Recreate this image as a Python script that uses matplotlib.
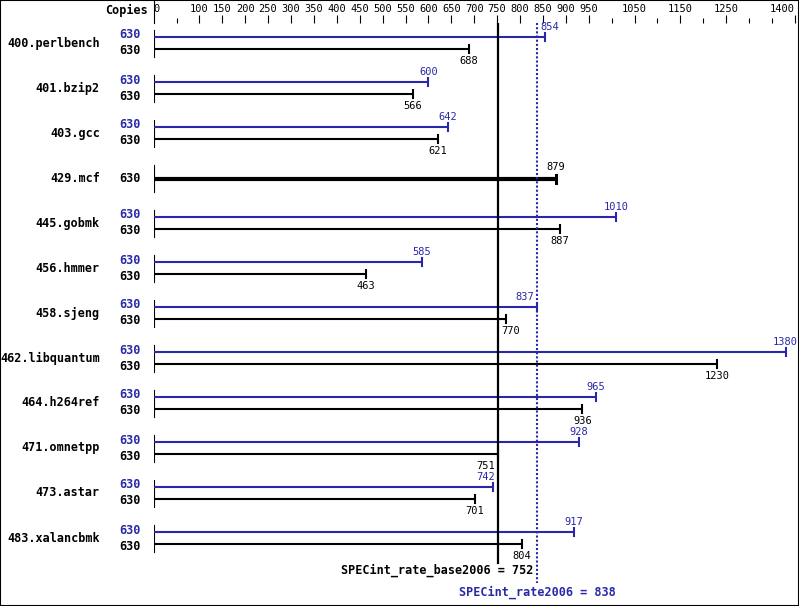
import matplotlib
matplotlib.use('Agg')
import matplotlib.pyplot as plt
import matplotlib.transforms as mtransforms

benchmarks = ['400.perlbench', '401.bzip2', '403.gcc', '429.mcf', '445.gobmk', '456.hmmer',
              '458.sjeng', '462.libquantum', '464.h264ref', '471.omnetpp', '473.astar', '483.xalancbmk']
peak = [854, 600, 642, 879, 1010, 585, 837, 1380, 965, 928, 742, 917]
base = [688, 566, 621, 879, 887, 463, 770, 1230, 936, 751, 701, 804]
copies_peak = [630] * 12
copies_base = [630] * 12
base_score = 752
peak_score = 838
major_ticks = [100, 150, 200, 250, 300, 350, 400, 450, 500, 550, 600, 650, 700, 750,
               800, 850, 900, 950, 1050, 1150, 1250, 1400]
minor_ticks = [50, 1000, 1100, 1200, 1300, 1350]

BLUE = '#2828a8'
W, H = 799, 606
X0, X1, TOP = 153.6, 794.8, 23
scale = (X1 - X0) / 1400

plt.rcParams['font.family'] = 'DejaVu Sans Mono'

fig = plt.figure(figsize=(W / 100, H / 100), dpi=100)
ax = fig.add_axes([X0 / W, 0, (X1 - X0) / W, (H - TOP) / H])
ax.set_xlim(0, 1400)
ax.set_ylim(H, TOP)
for s in ax.spines.values():
    s.set_visible(False)
ax.xaxis.tick_top()
ax.set_yticks([])
ax.set_xticks([0] + major_ticks)
ax.set_xticklabels(['0'] + [str(t) for t in major_ticks], fontsize=7.5)
ax.set_xticks(minor_ticks, minor=True)
ax.tick_params(axis='x', which='major', direction='out', length=5.8, width=0.8, pad=1)
ax.tick_params(axis='x', which='minor', direction='out', length=3.6, width=0.8)
ax.xaxis.get_major_ticks()[0].tick2line.set_visible(False)
labels = ax.get_xticklabels()
labels[0].set_ha('left')
labels[-1].set_ha('right')

# x in pixels, y in data
pxy = mtransforms.blended_transform_factory(mtransforms.IdentityTransform(), ax.transData)

ax.plot([0, 0], [0, TOP], color='black', lw=0.8, clip_on=False)
ax.text(148, 10, 'Copies', transform=pxy, ha='right', va='center', fontsize=8.5, fontweight='bold')


def px(v):
    return X0 + v * scale


def value_label(v, y, color):
    x, ha = v, 'center'
    half = len(str(v)) * 3 + 1
    for line in (base_score, peak_score):
        if abs(px(v) - px(line)) < half:
            if v >= line:
                x, ha = line + 3 / scale, 'left'
            else:
                x, ha = line - 3 / scale, 'right'
    ax.text(x, y, str(v), ha=ha, va='center', fontsize=7.5, color=color)


for i, name in enumerate(benchmarks):
    yc = 44 + 45 * i
    ax.text(100, yc - 1, name, transform=pxy, ha='right', va='center', fontsize=8.5, fontweight='bold')
    if peak[i] == base[i]:
        ax.plot([0, 0], [yc - 14, yc + 13], color='black', lw=0.8)
        ax.plot([0, base[i]], [yc, yc], color='black', lw=3, solid_capstyle='butt')
        ax.plot([base[i], base[i]], [yc - 4, yc + 4], color='black', lw=2.2)
        ax.text(141, yc, str(copies_base[i]), transform=pxy, ha='right', va='center',
                fontsize=8.5, fontweight='bold')
        value_label(base[i], yc - 12, 'black')
        continue
    yp, yb = yc - 7, yc + 5
    ax.plot([0, 0], [yc - 14, yc + 13], color='black', lw=0.8)
    ax.plot([0, peak[i]], [yp, yp], color=BLUE, lw=1.5, solid_capstyle='butt')
    ax.plot([peak[i], peak[i]], [yp - 4, yp + 4], color=BLUE, lw=1.5)
    ax.plot([0, base[i]], [yb, yb], color='black', lw=1.5, solid_capstyle='butt')
    ax.plot([base[i], base[i]], [yb - 4, yb + 4], color='black', lw=1.5)
    ax.text(141, yp - 2, str(copies_peak[i]), transform=pxy, ha='right', va='center',
            fontsize=8.5, fontweight='bold', color=BLUE)
    ax.text(141, yb + 2, str(copies_base[i]), transform=pxy, ha='right', va='center',
            fontsize=8.5, fontweight='bold')
    value_label(peak[i], yp - 10, BLUE)
    value_label(base[i], yb + 12, 'black')

ax.plot([base_score, base_score], [TOP, 563], color='black', lw=1.6)
ax.plot([peak_score, peak_score], [TOP, 583], color=BLUE, lw=1.5, linestyle=(0, (1, 1)))
ax.text(peak_score - 4 / scale, 570, 'SPECint_rate_base2006 = %d' % base_score, ha='right', va='center',
        fontsize=8.5, fontweight='bold')
ax.text(peak_score, 592, 'SPECint_rate2006 = %d' % peak_score, ha='center', va='center',
        fontsize=8.5, fontweight='bold', color=BLUE)

fig.add_artist(plt.Rectangle((0, 0), 1, 1, transform=fig.transFigure, fill=False, lw=1.5, edgecolor='black'))

fig.savefig('out.png', dpi=100)
